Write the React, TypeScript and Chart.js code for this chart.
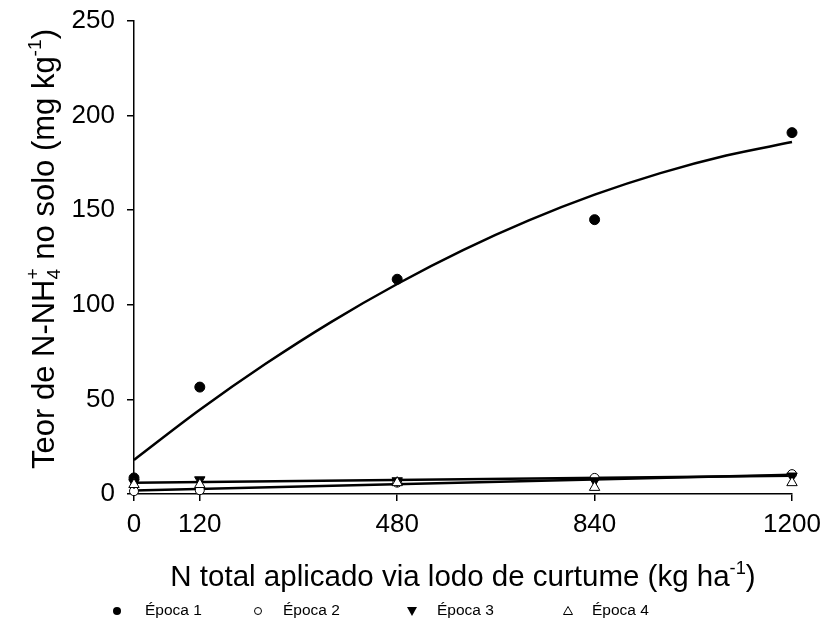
import React, { useEffect, useRef } from 'react';
import { Chart, registerables } from 'chart.js';

Chart.register(...registerables);

// ---- Data ----
const doses = [0, 120, 480, 840, 1200];
const xTickValues = [0, 120, 480, 840, 1200];
const yMin = 0;
const yMax = 250;
const yStep = 50;

const epoca1 = [8.5, 56.5, 113.5, 145, 191];
const epoca2 = [1.5, 2, 6, 8.5, 10.5];
const epoca3 = [6, 7.5, 7, 7, 9.5];
const epoca4 = [5, 5, 6, 3.5, 6];

// fitted curves, values
const fitDoses1 = [0, 120, 240, 360, 480, 600, 720, 840, 960, 1080, 1200];
const fitEpoca1 = [18, 44.5, 68.8, 91, 111, 128.9, 144.6, 158.2, 169.6, 178.9, 186];
const fitDosesLin = [0, 1200];
const fitEpoca2 = [1.8, 10.2];
const fitEpoca3 = [6, 9.6];

const legendLabels = ['Época 1', 'Época 2', 'Época 3', 'Época 4'];

const FONT = "'Liberation Sans', Arial, Helvetica, sans-serif";

type Seg = { t?: string; k: 'n' | 'sub' | 'sup' | 'subsup'; sub?: string; sup?: string };

function drawRich(ctx: CanvasRenderingContext2D, segs: Seg[], size: number) {
  const small = size * 0.62;
  const supOff = -size * 0.42;
  const subOff = size * 0.2;
  const widths = segs.map((s) => {
    if (s.k === 'n') {
      ctx.font = `${size}px ${FONT}`;
      return ctx.measureText(s.t || '').width;
    }
    ctx.font = `${small}px ${FONT}`;
    if (s.k === 'subsup') {
      return Math.max(ctx.measureText(s.sub || '').width, ctx.measureText(s.sup || '').width);
    }
    return ctx.measureText(s.t || '').width;
  });
  const total = widths.reduce((a, b) => a + b, 0);
  let x = -total / 2;
  ctx.textAlign = 'left';
  ctx.textBaseline = 'alphabetic';
  segs.forEach((s, i) => {
    if (s.k === 'n') {
      ctx.font = `${size}px ${FONT}`;
      ctx.fillText(s.t || '', x, 0);
    } else {
      ctx.font = `${small}px ${FONT}`;
      if (s.k === 'sup') ctx.fillText(s.t || '', x, supOff);
      else if (s.k === 'sub') ctx.fillText(s.t || '', x, subOff);
      else {
        ctx.fillText(s.sub || '', x, subOff);
        ctx.fillText(s.sup || '', x, supOff - size * 0.08);
      }
    }
    x += widths[i];
  });
}

const titlesPlugin = {
  id: 'richTitles',
  afterDraw(chart: any) {
    const ctx: CanvasRenderingContext2D = chart.ctx;
    const area = chart.chartArea;
    ctx.save();
    ctx.fillStyle = '#000';
    // x title
    ctx.save();
    ctx.translate((area.left + area.right) / 2, 586);
    drawRich(
      ctx,
      [
        { k: 'n', t: 'N total aplicado via lodo de curtume (kg ha' },
        { k: 'sup', t: '-1' },
        { k: 'n', t: ')' },
      ],
      29.5
    );
    ctx.restore();
    // y title
    ctx.save();
    ctx.translate(54, 249);
    ctx.rotate(-Math.PI / 2);
    drawRich(
      ctx,
      [
        { k: 'n', t: 'Teor de N-NH' },
        { k: 'subsup', sub: '4', sup: '+' },
        { k: 'n', t: ' no solo (mg kg' },
        { k: 'sup', t: '-1' },
        { k: 'n', t: ')' },
      ],
      31
    );
    ctx.restore();

    // legend
    const ly = 611;
    const markerX = [117, 258, 412, 568];
    const textX = [145, 283, 437, 592];
    ctx.lineWidth = 1;
    ctx.strokeStyle = '#000';
    markerX.forEach((mx, i) => {
      ctx.beginPath();
      if (i === 0) {
        ctx.arc(mx, ly, 4, 0, Math.PI * 2);
        ctx.fillStyle = '#000';
        ctx.fill();
      } else if (i === 1) {
        ctx.arc(mx, ly, 3.5, 0, Math.PI * 2);
        ctx.fillStyle = '#fff';
        ctx.fill();
        ctx.stroke();
      } else if (i === 2) {
        ctx.moveTo(mx - 5, ly - 4);
        ctx.lineTo(mx + 5, ly - 4);
        ctx.lineTo(mx, ly + 5);
        ctx.closePath();
        ctx.fillStyle = '#000';
        ctx.fill();
      } else {
        ctx.moveTo(mx - 4.5, ly + 3.5);
        ctx.lineTo(mx + 4.5, ly + 3.5);
        ctx.lineTo(mx, ly - 4.5);
        ctx.closePath();
        ctx.fillStyle = '#fff';
        ctx.fill();
        ctx.stroke();
      }
      ctx.fillStyle = '#000';
      ctx.font = `15.5px ${FONT}`;
      ctx.textAlign = 'left';
      ctx.textBaseline = 'middle';
      ctx.fillText(legendLabels[i], textX[i], ly);
    });
    ctx.restore();
  },
};

function pts(xs: number[], ys: number[]) {
  return xs.map((x, i) => ({ x, y: ys[i] }));
}

export default function App() {
  const ref = useRef<HTMLCanvasElement | null>(null);
  useEffect(() => {
    document.body.style.margin = '0';
    if (!ref.current) return;
    const tickFont = { family: FONT, size: 26 };
    const chart = new Chart(ref.current, {
      type: 'scatter',
      data: {
        datasets: [
          {
            label: 'Ajuste 1',
            data: pts(fitDoses1, fitEpoca1),
            showLine: true,
            borderColor: '#000',
            borderWidth: 2.5,
            pointRadius: 0,
            cubicInterpolationMode: 'monotone',
            order: 2,
            clip: false,
          } as any,
          {
            label: 'Ajuste 2',
            data: pts(fitDosesLin, fitEpoca2),
            showLine: true,
            borderColor: '#000',
            borderWidth: 2.5,
            pointRadius: 0,
            order: 2,
            clip: false,
          } as any,
          {
            label: 'Ajuste 3',
            data: pts(fitDosesLin, fitEpoca3),
            showLine: true,
            borderColor: '#000',
            borderWidth: 2.5,
            pointRadius: 0,
            order: 2,
            clip: false,
          } as any,
          {
            label: legendLabels[3],
            data: pts(doses, epoca4),
            pointStyle: 'triangle',
            pointRadius: 6,
            backgroundColor: '#fff',
            borderColor: '#000',
            borderWidth: 1,
            order: 1,
            clip: false,
          } as any,
          {
            label: legendLabels[2],
            data: pts(doses, epoca3),
            pointStyle: 'triangle',
            rotation: 180,
            pointRadius: 6,
            backgroundColor: '#000',
            borderColor: '#000',
            borderWidth: 1,
            order: 1,
            clip: false,
          } as any,
          {
            label: legendLabels[1],
            data: pts(doses, epoca2),
            pointStyle: 'circle',
            pointRadius: 4.5,
            backgroundColor: '#fff',
            borderColor: '#000',
            borderWidth: 1,
            order: 1,
            clip: false,
          } as any,
          {
            label: legendLabels[0],
            data: pts(doses, epoca1),
            pointStyle: 'circle',
            pointRadius: 5,
            backgroundColor: '#000',
            borderColor: '#000',
            borderWidth: 1,
            order: 1,
            clip: false,
          } as any,
        ],
      },
      options: {
        responsive: false,
        animation: false,
        devicePixelRatio: 1,
        layout: { padding: { top: 21, right: 28, left: 0, bottom: 0 } },
        plugins: {
          legend: { display: false },
          tooltip: { enabled: false },
        },
        scales: {
          x: {
            type: 'linear',
            min: 0,
            max: 1200,
            afterBuildTicks: (s: any) => {
              s.ticks = xTickValues.map((v) => ({ value: v }));
            },
            afterFit: (s: any) => {
              s.height = 135;
              s.paddingLeft = 0;
              s.paddingRight = 0;
              s.paddingTop = 0;
              s.paddingBottom = 0;
            },
            ticks: {
              font: tickFont,
              color: '#000',
              padding: 8,
              maxRotation: 0,
              autoSkip: false,
              callback: (v: any) => String(v),
            },
            grid: {
              drawOnChartArea: false,
              drawTicks: true,
              tickLength: 7,
              color: '#000',
              lineWidth: 1.5,
            },
            border: { display: true, color: '#000', width: 1.5 },
          },
          y: {
            type: 'linear',
            min: yMin,
            max: yMax,
            afterFit: (s: any) => {
              s.width = 134;
              s.paddingLeft = 0;
              s.paddingRight = 0;
              s.paddingTop = 0;
              s.paddingBottom = 0;
            },
            ticks: {
              stepSize: yStep,
              font: tickFont,
              color: '#000',
              padding: 12,
            },
            grid: {
              drawOnChartArea: false,
              drawTicks: true,
              tickLength: 7,
              color: '#000',
              lineWidth: 1.5,
            },
            border: { display: true, color: '#000', width: 1.5 },
          },
        },
      } as any,
      plugins: [titlesPlugin],
    });
    return () => chart.destroy();
  }, []);
  return (
    <div style={{ position: 'absolute', left: 0, top: 0, width: 820, height: 629, background: '#fff' }}>
      <canvas ref={ref} width={820} height={629} style={{ display: 'block' }} />
    </div>
  );
}
